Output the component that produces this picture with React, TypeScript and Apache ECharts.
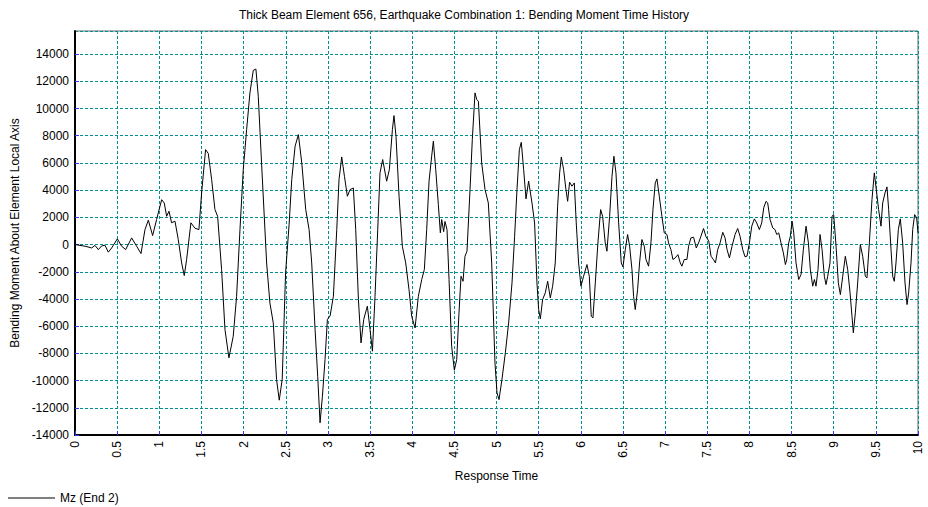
import React, { useEffect, useRef } from "react";
import * as echarts from "echarts";

const titleText = "Thick Beam Element 656, Earthquake Combination 1: Bending Moment Time History";
const xAxisName = "Response Time";
const yAxisName = "Bending Moment About Element Local Axis";
const seriesName = "Mz (End 2)";

const times = [
  0, 0.119, 0.198, 0.237, 0.277, 0.316, 0.356, 0.395, 0.435, 0.502, 0.553, 0.601, 0.672, 0.731, 0.783,
  0.83, 0.87, 0.921, 0.968, 1.028, 1.059, 1.087, 1.115, 1.146, 1.186, 1.225, 1.265, 1.296, 1.324, 1.375,
  1.423, 1.47, 1.502, 1.549, 1.581, 1.621, 1.66, 1.692, 1.739, 1.779, 1.826, 1.877, 1.917, 1.957, 1.996,
  2.036, 2.075, 2.115, 2.146, 2.174, 2.213, 2.273, 2.312, 2.352, 2.391, 2.423, 2.458, 2.498, 2.54, 2.571,
  2.611, 2.65, 2.69, 2.737, 2.777, 2.808, 2.848, 2.879, 2.907, 2.935, 2.966, 2.994, 3.026, 3.065, 3.105,
  3.132, 3.164, 3.196, 3.231, 3.263, 3.302, 3.33, 3.362, 3.393, 3.425, 3.468, 3.5, 3.528, 3.559, 3.591,
  3.618, 3.65, 3.697, 3.729, 3.765, 3.784, 3.808, 3.844, 3.883, 3.923, 3.962, 3.994, 4.034, 4.073, 4.113,
  4.144, 4.172, 4.2, 4.231, 4.251, 4.279, 4.31, 4.334, 4.35, 4.373, 4.389, 4.413, 4.437, 4.468, 4.5,
  4.528, 4.555, 4.579, 4.603, 4.626, 4.65, 4.686, 4.713, 4.745, 4.765, 4.785, 4.824, 4.864, 4.903, 4.943,
  4.982, 5.006, 5.03, 5.065, 5.105, 5.144, 5.184, 5.215, 5.243, 5.271, 5.294, 5.322, 5.35, 5.381, 5.421,
  5.452, 5.48, 5.5, 5.52, 5.547, 5.579, 5.607, 5.638, 5.666, 5.697, 5.725, 5.749, 5.769, 5.796, 5.824,
  5.844, 5.867, 5.895, 5.923, 5.946, 5.974, 6.002, 6.033, 6.073, 6.101, 6.124, 6.144, 6.172, 6.203, 6.235,
  6.259, 6.29, 6.31, 6.342, 6.37, 6.393, 6.417, 6.449, 6.48, 6.5, 6.528, 6.555, 6.579, 6.607, 6.626,
  6.646, 6.674, 6.697, 6.725, 6.753, 6.773, 6.804, 6.832, 6.856, 6.883, 6.903, 6.931, 6.962, 6.99, 7.022,
  7.041, 7.069, 7.093, 7.12, 7.152, 7.18, 7.199, 7.227, 7.259, 7.279, 7.306, 7.338, 7.37, 7.397, 7.425,
  7.456, 7.484, 7.518, 7.545, 7.573, 7.597, 7.624, 7.652, 7.684, 7.711, 7.735, 7.763, 7.794, 7.83, 7.861,
  7.889, 7.921, 7.948, 7.972, 8.0, 8.028, 8.059, 8.087, 8.118, 8.146, 8.17, 8.197, 8.217, 8.245, 8.277,
  8.304, 8.324, 8.348, 8.375, 8.403, 8.427, 8.443, 8.466, 8.486, 8.506, 8.526, 8.553, 8.585, 8.613, 8.64,
  8.672, 8.7, 8.723, 8.751, 8.771, 8.79, 8.814, 8.838, 8.862, 8.889, 8.909, 8.929, 8.956, 8.98, 9.0,
  9.028, 9.055, 9.079, 9.107, 9.138, 9.166, 9.194, 9.217, 9.233, 9.257, 9.284, 9.316, 9.344, 9.375, 9.395,
  9.423, 9.454, 9.482, 9.51, 9.533, 9.561, 9.581, 9.609, 9.632, 9.652, 9.68, 9.7, 9.719, 9.739, 9.767,
  9.79, 9.818, 9.846, 9.87, 9.889, 9.917, 9.937, 9.96, 9.984, 10.0,
];

const moments = [
  0, -120, -250, -60, -370, -100, -50, -560, -250, 420, -120, -370, 490, -120, -660,
  1100, 1790, 660, 1840, 3300, 3050, 2080, 2450, 1600, 1720, 370, -1350, -2280, -1100, 1600,
  1200, 1100, 3800, 6980, 6700, 4780, 2570, 2080, -1840, -6250, -8330, -6740, -3800, 1100, 5500,
  8450, 11150, 12810, 12900, 10900, 6000, -1350, -4290, -5760, -9920, -11440, -9900, -2080, 1500, 4780,
  7230, 8085, 6000, 2570, 1100, -1350, -6250, -9680, -13100, -11150, -8450, -5500, -5250, -3800, 1100,
  4780, 6440, 5020, 3550, 4040, 4160, 1100, -4040, -7230, -5500, -4530, -6250, -7840, -3800, 1100,
  5270, 6250, 4660, 5510, 8450, 9480, 7960, 3550, -120, -1350, -3300, -5270, -6130, -3800, -2570,
  -1840, 1100, 4660, 6500, 7600, 5510, 2940, 860, 1840, 950, 1700, 1100, -2570, -7470, -9240,
  -8450, -5020, -2330, -2700, -860, -490, 4040, 7720, 11150, 10660, 10540, 6000, 4040, 3060, -1350,
  -8700, -10900, -11400, -9900, -7960, -5760, -2820, 610, 4040, 6980, 7520, 5510, 3360, 4660, 3060,
  1590, -2820, -4780, -5460, -4040, -3550, -2700, -3920, -3060, -1350, 2820, 5270, 6440, 5510, 4040,
  3180, 4580, 4290, 4530, 1590, -1350, -3060, -2330, -1470, -2330, -5270, -5390, -2820, 120, 2570,
  2080, 120, -490, 2080, 5020, 6490, 5270, 1590, -1350, -1640, -370, 740, -120, -1840, -3800,
  -4780, -3300, -1350, 370, -120, -1100, -1590, 120, 2570, 4530, 4830, 3550, 2080, 860, 740,
  120, -370, -1100, -980, -740, -1350, -1590, -1100, -1100, -120, 490, 540, -250, 120, 610,
  1180, 600, 250, -860, -1100, -1350, -370, 120, 900, 490, -370, -980, -120, 740, 1180,
  610, -370, -900, -850, 120, 1350, 1890, 1590, 1100, 1590, 2700, 3180, 3060, 1840, 1220,
  1100, 740, 860, 120, -610, -1470, -1100, 120, 610, 1720, 860, -1350, -2570, -2200, -370,
  1350, 120, -1840, -3060, -2570, -3060, -1840, 740, -370, -2330, -2940, -2330, -1350, 2080, 2200,
  -120, -2820, -3680, -2330, -860, -1840, -3550, -5270, -6490, -5020, -2820, 0, -860, -2330, -2450,
  120, 3310, 5270, 3800, 2570, 1350, 3060, 3800, 4240, 2570, -370, -2330, -2700, -1350, 1100,
  1890, 120, -2820, -4410, -3550, -1350, 1100, 2200, 1960, 860,
];

const FONT = "'Liberation Sans', Arial, sans-serif";

export default function App() {
  const ref = useRef<HTMLDivElement>(null);

  useEffect(() => {
    document.body.style.margin = "0";
    if (!ref.current) return;
    const chart = echarts.init(ref.current, null, { renderer: "svg" });
    const data = times.map((t, i) => [t, moments[i]]);
    chart.setOption({
      animation: false,
      backgroundColor: "#ffffff",
      textStyle: { fontFamily: FONT },
      title: {
        text: titleText,
        left: "center",
        top: 4,
        textStyle: { fontSize: 12, fontWeight: "normal", color: "#000", fontFamily: FONT },
      },
      legend: {
        left: 8,
        top: 492,
        padding: 0,
        icon: "rect",
        itemWidth: 47,
        itemHeight: 1,
        itemGap: 10,
        textStyle: { fontSize: 12, color: "#000", fontFamily: FONT, padding: [0, 0, 0, 0] },
        data: [{ name: seriesName, itemStyle: { color: "#000" } }],
      },
      grid: {
        left: 75,
        right: 10,
        top: 31,
        bottom: 72,
        show: true,
        borderColor: "#666",
        borderWidth: 1,
        containLabel: false,
        outerBoundsMode: "none",
      },
      xAxis: {
        type: "value",
        min: 0,
        max: 10,
        interval: 0.5,
        name: xAxisName,
        nameLocation: "middle",
        nameGap: 35,
        nameTextStyle: { fontSize: 12, color: "#000", fontFamily: FONT },
        axisLine: { show: true, onZero: false, lineStyle: { color: "#000", width: 2 } },
        axisTick: { show: true, inside: true, length: 4, lineStyle: { color: "#3333ff" } },
        axisLabel: { rotate: 90, fontSize: 12, color: "#000", margin: 6, fontFamily: FONT },
        splitLine: { show: true, lineStyle: { color: "#009090", type: [3, 2], width: 1 } },
      },
      yAxis: {
        type: "value",
        min: -14000,
        max: 15700,
        interval: 2000,
        name: yAxisName,
        nameLocation: "middle",
        nameGap: 54,
        nameTextStyle: { fontSize: 12, color: "#000", fontFamily: FONT },
        axisLine: { show: true, onZero: false, lineStyle: { color: "#000", width: 2 } },
        axisTick: { show: true, inside: true, length: 4, lineStyle: { color: "#3333ff" } },
        axisLabel: {
          fontSize: 12,
          color: "#000",
          margin: 6,
          fontFamily: FONT,
          showMaxLabel: false,
          formatter: (v: number) => (Math.round(v) % 2000 === 0 ? String(v) : ""),
        },
        splitLine: { show: true, lineStyle: { color: "#009090", type: [3, 2], width: 1 } },
      },
      series: [
        {
          name: seriesName,
          type: "line",
          data,
          showSymbol: false,
          symbol: "none",
          lineStyle: { color: "#000", width: 1 },
          itemStyle: { color: "#000" },
          silent: true,
        },
      ],
    });
    return () => chart.dispose();
  }, []);

  return <div ref={ref} style={{ width: 928, height: 507 }} />;
}
